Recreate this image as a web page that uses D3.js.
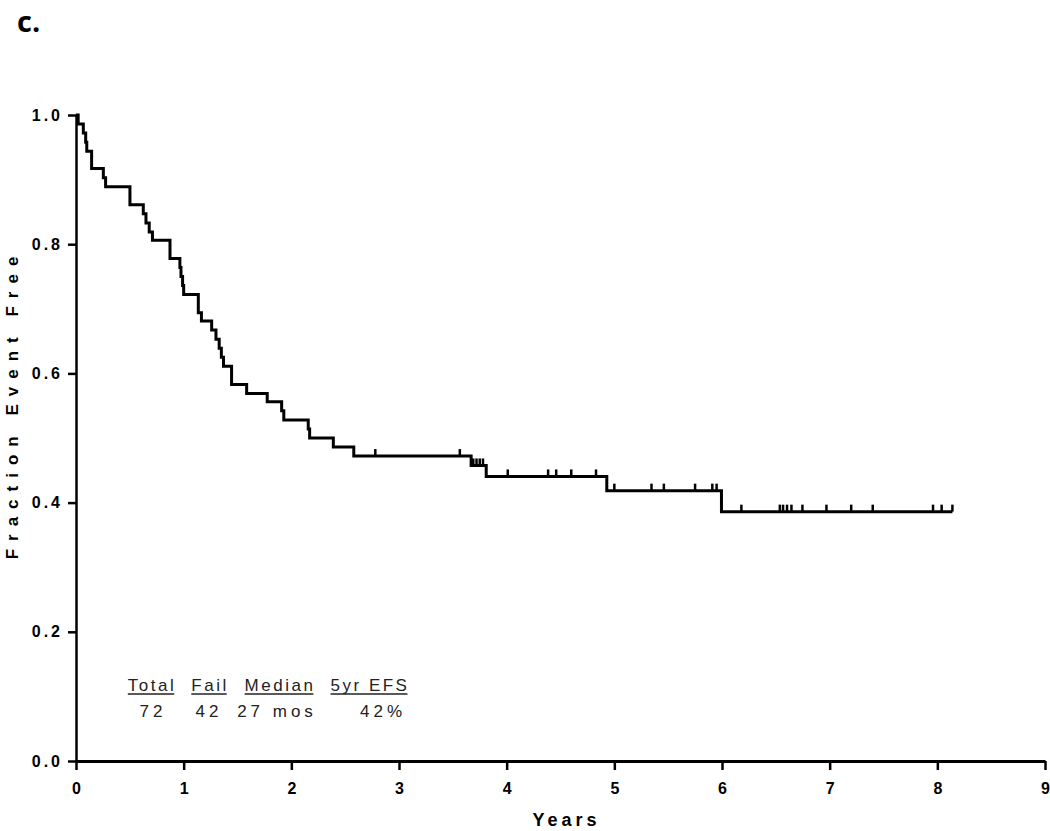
<!DOCTYPE html>
<html>
<head>
<meta charset="utf-8">
<script src="https://cdn.jsdelivr.net/npm/d3@7"></script>
<style>
  body { margin: 0; background: #fff; }
  svg { display: block; }
</style>
</head>
<body>
<div id="chart"></div>
<script>
// survival steps: time (years) where the curve drops, and level after the drop
const stepTimes = [0, 0.02, 0.068, 0.09, 0.10, 0.145, 0.254, 0.275, 0.501, 0.625, 0.65, 0.68, 0.71,
  0.873, 0.965, 0.975, 0.99, 1.0, 1.136, 1.165, 1.26, 1.30, 1.33, 1.35, 1.37, 1.445, 1.585, 1.776,
  1.91, 1.93, 2.157, 2.17, 2.39, 2.58, 3.67, 3.81, 4.93, 5.995]
const stepSurvival = [1.0, 0.986, 0.972, 0.958, 0.944, 0.917, 0.903, 0.889, 0.861, 0.847, 0.833, 0.819, 0.806,
  0.778, 0.764, 0.750, 0.736, 0.722, 0.694, 0.681, 0.667, 0.653, 0.639, 0.625, 0.611, 0.583, 0.569, 0.556,
  0.542, 0.528, 0.514, 0.500, 0.486, 0.472, 0.4575, 0.4405, 0.4185, 0.386]
// censored observations (tick marks)
const censorTimes = [2.78, 3.565, 3.69, 3.72, 3.75, 3.78, 4.01, 4.385, 4.46, 4.6, 4.83,
  5.0, 5.345, 5.46, 5.75, 5.91, 5.95, 6.18, 6.537, 6.567, 6.604, 6.645, 6.747, 6.97, 7.2, 7.4,
  7.96, 8.04, 8.14]
const lastFollowUp = 8.14

const xTickValues = [0, 1, 2, 3, 4, 5, 6, 7, 8, 9]
const yTickValues = [0.0, 0.2, 0.4, 0.6, 0.8, 1.0]

const tableHeaders = ['Total', 'Fail', 'Median', '5yr EFS']
const tableValues = ['72', '42', '27 mos', '42%']

const panelLabel = 'c.'
const xTitle = 'Years'
const yTitle = 'Fraction Event Free'

////////////////////////////////////
//////////////setup/////////////////
////////////////////////////////////
const svgWidth = 1050
const svgHeight = 831
const margin = { left: 76, right: 5, top: 115, bottom: 70 }
const width = svgWidth - margin.left - margin.right
const height = svgHeight - margin.top - margin.bottom

const svg = d3.select('#chart')
  .append('svg')
  .attr('width', svgWidth)
  .attr('height', svgHeight)

const g = svg.append('g')
  .attr('transform', `translate(${margin.left},${margin.top})`)

const xScale = d3.scaleLinear().domain([0, 9]).range([0, width])
const yScale = d3.scaleLinear().domain([0, 1]).range([height, 0])

const axisFont = '"Liberation Sans", Arial, sans-serif'
const narrowFont = '"Liberation Sans Narrow", "Arial Narrow", "Liberation Sans", sans-serif'

////////////////////////////////////
//////////////axes//////////////////
////////////////////////////////////
const xAxis = g.append('g')
  .attr('transform', `translate(0,${height})`)
  .call(d3.axisBottom(xScale).tickValues(xTickValues).tickFormat(d3.format('d'))
    .tickSize(9).tickSizeOuter(0).tickPadding(13))

xAxis.select('.domain').attr('stroke-width', 3).attr('stroke', '#000')
xAxis.selectAll('.tick line').attr('stroke-width', 2.5)
xAxis.selectAll('.tick text')
  .attr('font-family', narrowFont)
  .attr('font-weight', 'bold')
  .attr('font-size', 16)
  .attr('fill', '#000')

const yAxis = g.append('g')
  .call(d3.axisLeft(yScale).tickValues(yTickValues).tickFormat(d3.format('.1f'))
    .tickSize(8).tickSizeOuter(0).tickPadding(5))

yAxis.select('.domain').attr('stroke-width', 2.5).attr('stroke', '#000')
yAxis.selectAll('.tick line').attr('stroke-width', 2.5)
yAxis.selectAll('.tick text')
  .attr('font-family', narrowFont)
  .attr('font-weight', 'bold')
  .attr('font-size', 16)
  .attr('letter-spacing', 3)
  .attr('fill', '#000')

// axis titles
g.append('text')
  .attr('x', width / 2 + 6)
  .attr('y', height + 65)
  .attr('text-anchor', 'middle')
  .attr('font-family', axisFont)
  .attr('font-weight', 'bold')
  .attr('font-size', 18)
  .attr('letter-spacing', 4)
  .text(xTitle)

g.append('text')
  .attr('transform', `translate(${-58},${height / 2 - 34}) rotate(-90)`)
  .attr('text-anchor', 'middle')
  .attr('font-family', axisFont)
  .attr('font-weight', 'bold')
  .attr('font-size', 17)
  .attr('letter-spacing', 8)
  .text(yTitle)

svg.append('text')
  .attr('x', 17)
  .attr('y', 32)
  .attr('font-family', '"Open Sans", sans-serif')
  .attr('font-weight', 'bold')
  .attr('font-size', 29)
  .text(panelLabel)

////////////////////////////////////
//////////////curve/////////////////
////////////////////////////////////
const steps = stepTimes.map((t, i) => ({ t: t, s: stepSurvival[i] }))
steps.push({ t: lastFollowUp, s: stepSurvival[stepSurvival.length - 1] })

const line = d3.line()
  .x(d => xScale(d.t))
  .y(d => yScale(d.s))
  .curve(d3.curveStepAfter)

g.append('path')
  .datum(steps)
  .attr('fill', 'none')
  .attr('stroke', '#000')
  .attr('stroke-width', 3)
  .attr('d', line)

// level of the curve at a given time
function survivalAt(t) {
  let s = stepSurvival[0]
  stepTimes.forEach((st, i) => { if (st <= t) s = stepSurvival[i] })
  return s
}

g.selectAll('.censor')
  .data(censorTimes)
  .join('line')
  .attr('class', 'censor')
  .attr('x1', d => xScale(d))
  .attr('x2', d => xScale(d))
  .attr('y1', d => yScale(survivalAt(d)))
  .attr('y2', d => yScale(survivalAt(d)) - 7)
  .attr('stroke', '#000')
  .attr('stroke-width', 2.5)

////////////////////////////////////
//////////////table/////////////////
////////////////////////////////////
const headerCenters = [152, 210, 280, 370]
const valueCenters = [153, 209, 277, 383]

const header = svg.selectAll('.hdr')
  .data(tableHeaders)
  .join('text')
  .attr('class', 'hdr')
  .attr('x', (d, i) => headerCenters[i])
  .attr('y', 691)
  .attr('text-anchor', 'middle')
  .attr('font-family', axisFont)
  .attr('font-size', 17)
  .attr('letter-spacing', 2.5)
  .attr('fill', '#222')
  .text(d => d)

header.each(function (d, i) {
  const bb = this.getBBox()
  svg.append('line')
    .attr('x1', bb.x)
    .attr('x2', bb.x + bb.width - 2)
    .attr('y1', 694)
    .attr('y2', 694)
    .attr('stroke', '#222')
    .attr('stroke-width', 1.3)
})

svg.selectAll('.val')
  .data(tableValues)
  .join('text')
  .attr('class', 'val')
  .attr('x', (d, i) => valueCenters[i])
  .attr('y', 717)
  .attr('text-anchor', 'middle')
  .attr('font-family', axisFont)
  .attr('font-size', 17)
  .attr('letter-spacing', 4)
  .attr('fill', '#222')
  .text(d => d)
</script>
</body>
</html>
